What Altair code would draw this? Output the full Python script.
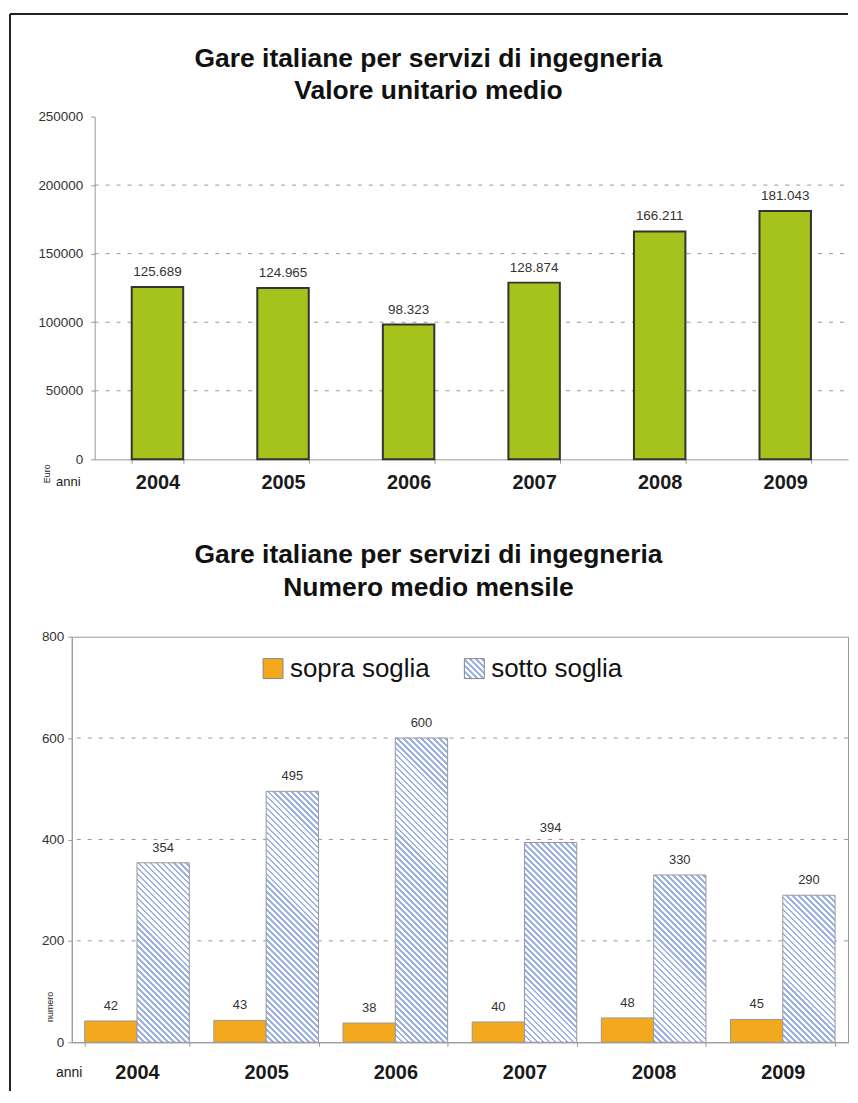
import altair as alt
import pandas as pd

# ---------------- data ----------------
YEARS = ["2004", "2005", "2006", "2007", "2008", "2009"]
VALORE_MEDIO = [125689, 124965, 98323, 128874, 166211, 181043]
SOPRA_SOGLIA = [42, 43, 38, 40, 48, 45]
SOTTO_SOGLIA = [354, 495, 600, 394, 330, 290]
SERIES = ["sopra soglia", "sotto soglia"]
TITLE_TOP = ["Gare italiane per servizi di ingegneria", "Valore unitario medio"]
TITLE_BOT = ["Gare italiane per servizi di ingegneria", "Numero medio mensile"]
Y1_TICKS = [0, 50000, 100000, 150000, 200000, 250000]
Y1_GRID = [50000, 100000, 150000, 200000]
Y2_TICKS = [0, 200, 400, 600, 800]
Y2_GRID = [200, 400, 600]

# ---------------- style ----------------
FONT = "Liberation Sans"
GREEN = "#a5c31c"
ORANGE = "#f4a81d"
HATCH_BLUE = "#9db2e4"
GRAY = "#999999"
W, H1, H2 = 779, 344, 407      # both plots start at page x=70
X1_START = 23                  # top chart axis sits 23px to the right
GAP = 178                      # top plot bottom -> bottom plot top
PI2, PO2 = 0.19, 0.10
TITLE_SIZE = 26.5


def it_fmt(v):
    return f"{v:,}".replace(",", ".")


df1 = pd.DataFrame({"anno": YEARS, "valore": VALORE_MEDIO,
                    "etichetta": [it_fmt(v) for v in VALORE_MEDIO]})
rows = []
for i, yr in enumerate(YEARS):
    rows.append({"anno": yr, "serie": SERIES[0], "valore": SOPRA_SOGLIA[i]})
    rows.append({"anno": yr, "serie": SERIES[1], "valore": SOTTO_SOGLIA[i]})
df2 = pd.DataFrame(rows)


def hatch_stops(w, h, period=6.0, frac=0.45):
    L = w + h
    stops = []
    s = 0.0
    while s < L - 1e-9:
        a = round(s / L, 5)
        b = round(min((s + period * frac) / L, 1.0), 5)
        c = round(min((s + period) / L, 1.0), 5)
        stops += [{"offset": a, "color": HATCH_BLUE}, {"offset": b, "color": HATCH_BLUE},
                  {"offset": b, "color": "#ffffff"}, {"offset": c, "color": "#ffffff"}]
        s += period
    k = (w + h) / (w * w + h * h)
    return stops, round(k * w, 6), round(1 - k * h, 6)


def hatch(w, h):
    stops, x2, y2 = hatch_stops(w, h)
    return {"gradient": "linear", "x1": 0, "y1": 1, "x2": x2, "y2": y2, "stops": stops}


def hatch_expr(w, h):
    stops, x2, y2 = hatch_stops(w, h)
    st = ",".join("{offset:%s,color:'%s'}" % (s["offset"], s["color"]) for s in stops)
    return "{gradient:'linear',x1:0,y1:1,x2:%s,y2:%s,stops:[%s]}" % (x2, y2, st)


def one(col, val):
    return pd.DataFrame({col: [val]})


def title_layer(text, x, y):
    return alt.Chart(one("t", text)).mark_text(
        fontSize=TITLE_SIZE, fontWeight="bold", color="#111", align="center",
        baseline="middle").encode(text="t:N", x=alt.value(x), y=alt.value(y))


def frame_rule(**enc):
    return alt.Chart(one("k", 0)).mark_rule(color="#222", strokeWidth=2).encode(**enc)


# ================= TOP CHART =================
x1 = alt.X("anno:N", sort=YEARS,
           scale=alt.Scale(paddingInner=0.59, paddingOuter=0.295, range=[X1_START, W]),
           axis=alt.Axis(title="anni", titleX=-4, titleY=22, titleFontSize=13,
                         titleFontWeight="normal", titleAlign="center", titleBaseline="middle",
                         titleColor="#222", labelAngle=0, labelFontSize=20, labelFontWeight="bold",
                         labelColor="#1a1a1a", labelPadding=9, tickBand="extent", tickSize=4,
                         tickColor=GRAY, domainColor=GRAY))
y1 = alt.Y("valore:Q", scale=alt.Scale(domain=[0, 250000], nice=False),
           axis=alt.Axis(values=Y1_TICKS, format="d", grid=False, title="Euro", offset=-X1_START,
                         titleX=-48, titleY=358, titleAngle=270, titleFontSize=9,
                         titleFontWeight="normal", titleAlign="center", titleBaseline="middle",
                         titleColor="#222", labelFontSize=13.5, labelColor="#333", labelPadding=8,
                         tickSize=4, tickColor=GRAY, domainColor=GRAY))

bars1 = alt.Chart(df1).mark_bar(fill=GREEN, stroke="#333333", strokeWidth=2).encode(x=x1, y=y1)
grid1 = alt.Chart(pd.DataFrame({"valore": Y1_GRID})).mark_rule(
    color=GRAY, strokeDash=[4, 7], strokeWidth=1).encode(
    y=y1, x=alt.value(X1_START), x2=alt.value(W))
lab1 = alt.Chart(df1).mark_text(dy=-8, baseline="bottom", fontSize=13.5, color="#333").encode(
    x=x1, y=y1, text="etichetta:N")

top = alt.layer(
    grid1, bars1, lab1,
    title_layer(TITLE_TOP[0], 358, -58), title_layer(TITLE_TOP[1], 358, -26),
    frame_rule(x=alt.value(-62), y=alt.value(-103), y2=alt.value(H1 + 64)),
    frame_rule(x=alt.value(-62), x2=alt.value(W), y=alt.value(-103)),
).properties(width=W, height=H1, view=alt.ViewBackground(stroke="transparent"))

# ================= BOTTOM CHART =================
x2 = alt.X("anno:N", sort=YEARS,
           scale=alt.Scale(paddingInner=PI2, paddingOuter=PO2),
           axis=alt.Axis(title="anni", titleX=-3, titleY=30, titleFontSize=14,
                         titleFontWeight="normal", titleAlign="center", titleBaseline="middle",
                         titleColor="#222", labelAngle=0, labelFontSize=20, labelFontWeight="bold",
                         labelColor="#1a1a1a", labelPadding=16, tickBand="extent", tickSize=4,
                         tickColor=GRAY, domainColor=GRAY))
xo = alt.XOffset("serie:N", sort=SERIES,
                 scale=alt.Scale(domain=SERIES, paddingInner=0, paddingOuter=0))
y2 = alt.Y("valore:Q", scale=alt.Scale(domain=[0, 800], nice=False),
           axis=alt.Axis(values=Y2_TICKS, format="d", grid=False, title="numero",
                         titleX=-22, titleY=371, titleAngle=270, titleFontSize=9,
                         titleFontWeight="normal", titleAlign="center", titleBaseline="middle",
                         titleColor="#222", labelFontSize=13.5, labelColor="#333", labelPadding=4,
                         tickSize=4, tickColor=GRAY, domainColor=GRAY))

step2 = W / (len(YEARS) - PI2 + 2 * PO2)
bar_w = step2 * (1 - PI2) / 2

legend = alt.Legend(title=None, orient="none", legendX=189, legendY=19, direction="horizontal",
                    symbolType="square", symbolSize=400, symbolStrokeColor="#888",
                    symbolStrokeWidth=1, labelFontSize=26, labelColor="#111", labelOffset=4,
                    columnPadding=31, padding=0, symbolOpacity=1, labelFont=FONT)

grid2 = alt.Chart(pd.DataFrame({"valore": Y2_GRID})).mark_rule(
    color=GRAY, strokeDash=[4, 7], strokeWidth=1).encode(y=y2)
orange = alt.Chart(df2).transform_filter(alt.datum.serie == SERIES[0]).mark_bar(
    stroke=GRAY, strokeWidth=1).encode(
    x=x2, xOffset=xo, y=y2,
    color=alt.Color("serie:N",
                    scale=alt.Scale(domain=SERIES,
                                    range=[ORANGE, alt.ExprRef(expr=hatch_expr(20, 20))]),
                    legend=legend))
layers = [grid2, orange]
for yr, v in zip(YEARS, SOTTO_SOGLIA):
    h = v / 800 * H2
    layers.append(
        alt.Chart(df2).transform_filter(
            (alt.datum.serie == SERIES[1]) & (alt.datum.anno == yr)).mark_bar(
            fill=hatch(bar_w, h), stroke=GRAY, strokeWidth=1).encode(
            x=x2, xOffset=xo, y=y2))
lab2 = alt.Chart(df2).mark_text(dy=-8, baseline="bottom", fontSize=13, color="#333").encode(
    x=x2, xOffset=xo, y=y2, text="valore:Q")
layers += [lab2,
           title_layer(TITLE_BOT[0], 358, -82), title_layer(TITLE_BOT[1], 358, -49),
           frame_rule(x=alt.value(-62), y=alt.value(-(GAP - 64) - 4), y2=alt.value(456))]
bottom = alt.layer(*layers).properties(
    width=W, height=H2, view=alt.ViewBackground(stroke=GRAY, strokeWidth=1))

chart = alt.vconcat(top, bottom, spacing=GAP, bounds="flush").resolve_scale(
    color="independent").resolve_legend(color="independent").properties(
    padding={"left": 0, "top": 2, "right": 0, "bottom": 0}
).configure(font=FONT)

chart.save("out.html", embed_options={"renderer": "svg", "actions": False})
